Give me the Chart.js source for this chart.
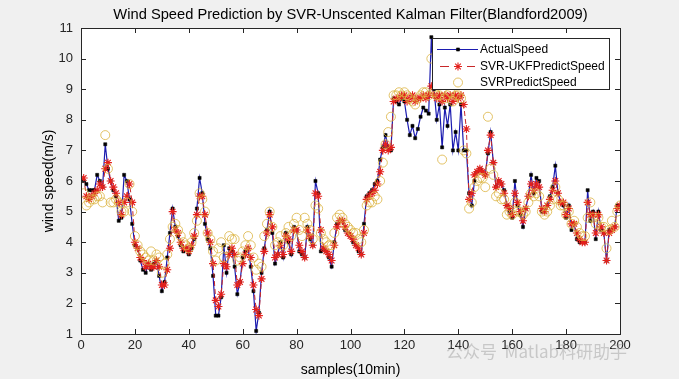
<!DOCTYPE html>
<html>
<head>
<meta charset="utf-8">
<script src="https://cdn.jsdelivr.net/npm/chart.js@4.4.1/dist/chart.umd.min.js"></script>
<style>
  html, body { margin: 0; padding: 0; background: #f0f0f0; }
  #wrap { width: 679px; height: 379px; }
</style>
</head>
<body>
<div id="wrap"><canvas id="speed-chart" width="679" height="379"></canvas></div>
<script>
// значения, отсчёты 1..200
const actualSpeed = [
  6.0, 5.9, 5.7, 5.7, 5.7, 6.2, 6.0, 5.8, 7.2, 6.4, 6.0, 5.7, 5.5, 4.7, 4.8, 6.2, 6.0, 5.4, 4.6, 3.9,
  3.8, 3.4, 3.1, 3.0, 3.3, 3.1, 3.3, 3.4, 2.9, 2.4, 2.7, 3.5, 4.3, 5.1, 4.5, 4.2, 3.9, 3.7, 3.8, 3.6,
  3.8, 4.1, 5.1, 6.1, 5.6, 4.6, 4.1, 3.8, 2.9, 1.6, 1.6, 2.2, 3.9, 3.0, 3.8, 3.7, 3.2, 2.3, 2.7, 3.5,
  3.7, 3.8, 3.2, 2.4, 1.1, 1.7, 3.0, 3.8, 4.4, 5.0, 4.3, 3.3, 3.6, 4.0, 3.5, 4.3, 4.0, 3.6, 4.5, 4.4,
  3.7, 3.6, 3.5, 4.5, 4.1, 3.9, 6.0, 5.6, 3.7, 3.8, 3.7, 3.5, 3.2, 4.0, 4.6, 4.7, 4.7, 4.4, 4.3, 4.2,
  4.0, 3.9, 3.7, 3.6, 4.6, 5.5, 5.6, 5.7, 5.9, 6.0, 6.7, 7.1, 7.5, 7.1, 7.0, 8.7, 8.6, 8.5, 8.7, 8.6,
  8.0, 7.5, 7.8, 7.4, 7.7, 8.1, 8.4, 8.3, 8.2, 10.7, 9.0, 8.0, 8.5, 7.1, 8.4, 7.8, 8.5, 7.0, 7.6, 7.0,
  8.5, 7.0, 7.0, 5.6, 5.2, 6.0, 6.3, 6.4, 6.3, 6.2, 6.9, 7.6, 6.6, 5.8, 6.0, 5.9, 5.7, 5.2, 5.0, 4.8,
  6.0, 5.2, 4.9, 4.5, 5.1, 5.5, 6.2, 5.6, 6.1, 6.0, 5.0, 5.0, 5.2, 5.5, 5.8, 6.5, 5.6, 5.3, 5.2, 4.8,
  5.2, 4.4, 4.6, 4.1, 4.0, 4.0, 4.0, 5.7, 4.7, 5.0, 4.1, 5.0, 4.4, 4.3, 3.4, 4.4, 4.4, 4.5, 5.2, 5.2
];
const ukfPredictSpeed = [
  6.1, 5.5, 5.4, 5.5, 5.6, 5.7, 5.9, 5.8, 6.4, 6.6, 6.0, 5.8, 5.6, 5.3, 4.9, 5.3, 5.5, 5.9, 5.3, 4.0,
  3.8, 3.5, 3.4, 3.2, 3.3, 3.2, 3.2, 3.4, 3.2, 2.6, 2.6, 3.1, 3.8, 5.0, 4.4, 4.3, 4.0, 3.8, 3.8, 3.7,
  3.9, 4.2, 4.9, 5.5, 5.5, 4.9, 4.3, 4.0, 3.3, 2.1, 1.9, 2.3, 3.3, 3.2, 3.6, 3.8, 3.6, 2.6, 2.7, 3.3,
  3.6, 3.8, 3.5, 2.6, 1.8, 1.6, 2.8, 3.7, 4.3, 4.9, 4.5, 3.5, 3.6, 3.9, 3.6, 4.2, 4.1, 3.7, 4.4, 4.4,
  3.9, 3.7, 3.5, 4.4, 4.2, 3.9, 5.6, 5.5, 4.4, 3.8, 3.7, 3.6, 3.4, 3.9, 4.5, 4.7, 4.7, 4.5, 4.3, 4.2,
  4.1, 3.9, 3.8, 3.6, 4.3, 5.4, 5.5, 5.6, 5.7, 5.9, 6.3, 7.0, 7.2, 7.0, 7.1, 8.6, 8.7, 8.7, 8.8, 8.8,
  8.6, 8.7, 8.8, 8.6, 8.7, 8.7, 8.8, 8.7, 8.8, 9.1, 8.8, 8.7, 8.8, 8.6, 8.8, 8.7, 8.8, 8.6, 8.8, 8.7,
  8.8, 8.5, 7.7, 5.4, 5.6, 6.2, 6.3, 6.4, 6.3, 6.2, 7.0, 7.5, 6.6, 5.8, 6.0, 5.9, 5.6, 5.2, 5.1, 4.9,
  5.6, 5.3, 5.0, 4.7, 5.1, 5.5, 5.9, 5.7, 5.9, 5.8, 5.1, 5.0, 5.2, 5.4, 5.7, 6.0, 5.6, 5.3, 5.3, 4.9,
  5.1, 4.6, 4.6, 4.3, 4.1, 4.0, 4.0, 5.3, 4.9, 4.9, 4.3, 4.9, 4.5, 4.3, 3.4, 4.3, 4.4, 4.5, 5.1, 5.2
];
const svrPredictSpeed = [
  5.6, 5.2, 5.3, 5.4, 5.4, 5.5, 5.5, 5.3, 7.5, 6.4, 5.3, 5.3, 5.4, 5.3, 5.0, 5.0, 5.3, 5.9, 5.0, 4.2,
  3.9, 3.7, 3.6, 3.5, 3.4, 3.7, 3.4, 3.6, 3.5, 3.0, 3.3, 3.6, 4.1, 4.5, 4.6, 4.4, 4.2, 4.0, 3.9, 3.8,
  4.0, 4.3, 4.7, 5.6, 5.4, 5.0, 4.3, 4.1, 3.7, 3.4, 3.8, 4.0, 3.5, 3.8, 4.2, 4.1, 4.1, 3.4, 3.5, 3.7,
  3.9, 4.2, 3.9, 3.5, 3.1, 3.3, 3.2, 4.2, 4.6, 5.0, 4.5, 3.9, 4.0, 4.2, 3.9, 4.3, 4.5, 4.2, 4.6, 4.8,
  4.4, 4.2, 4.8, 4.6, 4.4, 4.1, 5.2, 5.1, 4.3, 4.1, 4.0, 3.9, 3.9, 4.3, 4.8, 4.9, 4.8, 4.6, 4.5, 4.4,
  4.3, 4.3, 4.1, 4.0, 4.4, 5.2, 5.3, 5.3, 5.5, 5.4, 6.0, 6.6, 7.2, 7.6, 8.1, 8.8, 8.8, 8.9, 8.8, 8.9,
  8.8, 8.7, 8.6, 8.5, 8.7, 8.8, 8.9, 8.9, 8.8, 10.0, 8.9, 8.8, 8.8, 6.7, 8.7, 8.8, 8.9, 8.6, 8.8, 8.8,
  8.7, 7.0, 6.9, 5.1, 5.3, 5.8, 6.0, 6.1, 6.1, 5.8, 8.1, 6.4, 6.2, 5.5, 5.6, 5.4, 5.4, 4.9, 5.0, 4.9,
  5.3, 5.0, 5.0, 4.9, 5.0, 5.3, 5.6, 5.5, 5.6, 5.5, 5.0, 4.9, 5.0, 5.2, 5.4, 5.8, 5.4, 5.2, 5.2, 4.9,
  5.0, 4.6, 4.7, 4.5, 4.3, 4.2, 4.2, 4.8, 5.3, 4.8, 4.6, 4.8, 4.5, 4.5, 3.8, 4.4, 4.7, 4.5, 5.0, 5.2
];
const xTicks = [0, 20, 40, 60, 80, 100, 120, 140, 160, 180, 200];
const yTicks = [1, 2, 3, 4, 5, 6, 7, 8, 9, 10, 11];

const samples = actualSpeed.map((v, i) => i + 1);
const toPoints = values => values.map((v, i) => ({ x: samples[i], y: v }));

const FONT = '"Liberation Sans", Arial, Helvetica, sans-serif';

// фон, рамка с внутренними засечками, заголовок, легенда
const frame = {
    id: 'frame',
    beforeDraw(chart) {
        const { ctx, chartArea: a } = chart;
        ctx.save();
        ctx.fillStyle = '#f0f0f0';
        ctx.fillRect(0, 0, chart.width, chart.height);
        ctx.fillStyle = '#ffffff';
        ctx.fillRect(a.left, a.top, a.right - a.left, a.bottom - a.top);
        ctx.restore();
    },
    afterDraw(chart) {
        const { ctx, chartArea: a, scales } = chart;
        ctx.save();
        ctx.strokeStyle = '#262626';
        ctx.lineWidth = 1;
        ctx.beginPath();
        xTicks.forEach(t => {
            const x = Math.round(scales.x.getPixelForValue(t)) + 0.5;
            ctx.moveTo(x, a.bottom); ctx.lineTo(x, a.bottom - 5);
            ctx.moveTo(x, a.top); ctx.lineTo(x, a.top + 5);
        });
        yTicks.forEach(t => {
            const y = Math.round(scales.y.getPixelForValue(t)) + 0.5;
            ctx.moveTo(a.left, y); ctx.lineTo(a.left + 5, y);
            ctx.moveTo(a.right, y); ctx.lineTo(a.right - 5, y);
        });
        ctx.stroke();
        ctx.strokeRect(Math.round(a.left) + 0.5, Math.round(a.top) + 0.5,
            Math.round(a.right - a.left), Math.round(a.bottom - a.top));

        // заголовок
        ctx.fillStyle = '#000';
        ctx.font = '14.7px ' + FONT;
        ctx.textAlign = 'center';
        ctx.textBaseline = 'middle';
        ctx.fillText('Wind Speed Prediction by SVR-Unscented Kalman Filter(Blandford2009)',
            (a.left + a.right) / 2, 15);

        // легенда
        const bx = a.right - 188, by = a.top + 10, bw = 177, bh = 51;
        ctx.fillStyle = '#fff';
        ctx.fillRect(bx, by, bw, bh);
        ctx.strokeStyle = '#262626';
        ctx.strokeRect(bx + 0.5, by + 0.5, bw, bh);
        ctx.font = '12px ' + FONT;
        ctx.textAlign = 'left';
        chart.data.datasets.forEach((ds, i) => {
            const y = Math.round(by + 11 + i * 16.5) + 0.5;
            const x0 = bx + 5, x1 = bx + 46, xm = bx + 26;
            if (ds.showLine !== false) {
                ctx.save();
                ctx.strokeStyle = ds.borderColor;
                ctx.lineWidth = 1.2;
                ctx.beginPath();
                if (ds.borderDash) {
                    ctx.moveTo(x0 + 3, y); ctx.lineTo(xm - 9, y);
                    ctx.moveTo(xm + 9, y); ctx.lineTo(x1 - 3, y);
                } else {
                    ctx.moveTo(x0, y); ctx.lineTo(x1, y);
                }
                ctx.stroke();
                ctx.restore();
            }
            ctx.save();
            ctx.fillStyle = ds.pointBackgroundColor;
            ctx.strokeStyle = ds.pointBorderColor;
            ctx.lineWidth = ds.pointBorderWidth;
            Chart.helpers.drawPoint(ctx, {
                pointStyle: ds.pointStyle,
                radius: ds.pointRadius,
                borderWidth: ds.pointBorderWidth
            }, xm, y);
            ctx.restore();
            ctx.fillStyle = '#000';
            ctx.fillText(ds.label, bx + 48, y);
        });

        // водяной знак
        ctx.font = '17px "Noto Sans CJK SC", sans-serif';
        ctx.fillStyle = 'rgba(150,150,150,0.45)';
        ctx.textBaseline = 'middle';
        ctx.fillText('公众号  Matlab科研助手', 446, 352);
        ctx.restore();
    }
};

const ctx = document.getElementById('speed-chart').getContext('2d');
new Chart(ctx, {
    type: 'line',
    data: {
        datasets: [
            {
                label: 'ActualSpeed',
                data: toPoints(actualSpeed),
                borderColor: '#1c1cb0',
                borderWidth: 1.2,
                pointStyle: 'rect',
                pointRadius: 2.2,
                pointBorderWidth: 0.5,
                pointBackgroundColor: '#000',
                pointBorderColor: '#000',
                order: 3
            },
            {
                label: 'SVR-UKFPredictSpeed',
                data: toPoints(ukfPredictSpeed),
                borderColor: '#c8282a',
                borderWidth: 1,
                borderDash: [5, 3],
                pointStyle: 'star',
                pointRadius: 4,
                pointBorderWidth: 1.1,
                pointBackgroundColor: '#e3201c',
                pointBorderColor: '#e3201c',
                order: 2
            },
            {
                label: 'SVRPredictSpeed',
                data: toPoints(svrPredictSpeed),
                showLine: false,
                borderColor: '#dcb441',
                pointStyle: 'circle',
                pointRadius: 4.5,
                pointBorderWidth: 0.8,
                pointBackgroundColor: 'rgba(0,0,0,0)',
                pointBorderColor: '#dcb441',
                order: 1
            }
        ]
    },
    options: {
        responsive: false,
        animation: false,
        devicePixelRatio: 1,
        layout: { padding: { top: 28, right: 59, left: 0, bottom: 0 } },
        elements: { line: { tension: 0 } },
        plugins: {
            legend: { display: false },
            tooltip: { enabled: false },
            title: { display: false }
        },
        scales: {
            x: {
                type: 'linear',
                min: 0,
                max: 200,
                afterFit(scale) { scale.height = 45; },
                afterBuildTicks(scale) { scale.ticks = xTicks.map(v => ({ value: v })); },
                ticks: {
                    color: '#262626',
                    font: { family: FONT, size: 13 },
                    padding: 4,
                    maxRotation: 0,
                    autoSkip: false
                },
                grid: { display: false, drawTicks: false },
                border: { display: false },
                title: {
                    display: true,
                    text: 'samples(10min)',
                    color: '#000',
                    font: { family: FONT, size: 14 },
                    padding: { top: 0, bottom: 0 }
                }
            },
            y: {
                min: 1,
                max: 11,
                afterFit(scale) { scale.width = 81; },
                afterBuildTicks(scale) { scale.ticks = yTicks.map(v => ({ value: v })); },
                ticks: {
                    color: '#262626',
                    font: { family: FONT, size: 13 },
                    padding: 8,
                    autoSkip: false
                },
                grid: { display: false, drawTicks: false },
                border: { display: false },
                title: {
                    display: true,
                    text: 'wind speed(m/s)',
                    color: '#000',
                    font: { family: FONT, size: 14 },
                    padding: { top: 41, bottom: 0 }
                }
            }
        }
    },
    plugins: [frame]
});
</script>
</body>
</html>
